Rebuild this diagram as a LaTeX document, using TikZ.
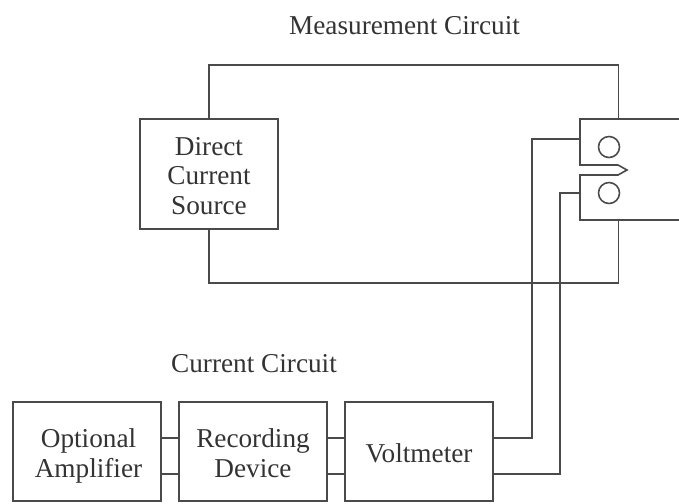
\documentclass[tikz,border=0pt]{standalone}
\usepackage{fontspec}
\setmainfont{Liberation Serif}

\definecolor{inkgray}{HTML}{4A4A4A}
\tikzset{
  lead/.style={draw=inkgray, line width=0.9pt},
  blocktext/.style={align=center, text=black!80, font=\fontsize{15.5}{17}\selectfont, inner sep=0pt},
  blockbox/.style={lead, inner sep=0pt},
  lowerbox/.style={blockbox, minimum width=2.96cm, minimum height=1.98cm},
  caption/.style={text=black!80, font=\fontsize{15.5}{17}\selectfont}
}

\begin{document}
\begin{tikzpicture}
      \def\xsize{13.58}
      \def\ysize{10.06}
      \def\holesize{0.21}
      \useasboundingbox (0,0) rectangle (\xsize,\ysize);

      \node[caption] (measurelabel) at (8.09,9.54) {Measurement Circuit};
      \node[caption] (currentlabel) at (5.08,2.78) {Current Circuit};

      \node[blockbox, minimum width=2.76cm, minimum height=2.2cm,
        label={[blocktext,yshift=-0.1cm]center:\strut Direct\\\strut Current\\\strut Source}] (source) at (4.18,6.58) {};
      \node[lowerbox, label={[blocktext,xshift=0.03cm,yshift=-0.1cm]center:\strut Optional\\\strut Amplifier}] (amplifier) at (1.74,1.03) {};
      \node[lowerbox, label={[blocktext,yshift=-0.1cm]center:\strut Recording\\\strut Device}] (recorder) at (5.06,1.03) {};
      \node[lowerbox, label={[blocktext,yshift=-0.1cm]center:\strut Voltmeter}] (voltmeter) at (8.38,1.03) {};

      % specimen, open on the right
      \coordinate (spectop) at (12.37,7.68);
      \coordinate (specbot) at (12.37,5.66);
      \coordinate (tapup) at (11.6,7.28);
      \coordinate (tapdown) at (11.6,6.2);
      \draw[lead] (\xsize,7.68) -- (11.6,7.68) -- (11.6,6.76) -- (12.36,6.76) -- (12.54,6.66)
        -- (12.36,6.56) -- (11.6,6.56) -- (11.6,5.66) -- (\xsize,5.66);
      \draw[lead] (12.18,7.12) circle (\holesize);
      \draw[lead] (12.18,6.2) circle (\holesize);

      % current loop
      \coordinate (looptop) at (12.37,8.76);
      \coordinate (loopbot) at (12.37,4.4);
      \draw[lead] (source.north) |- (looptop) -- (spectop);
      \draw[lead] (source.south) |- (loopbot) -- (specbot);

      % voltage leads
      \coordinate (voltup) at (voltmeter.east |- 0,1.3);
      \coordinate (voltdown) at (voltmeter.east |- 0,0.58);
      \draw[lead] (voltup) -- (10.64,1.3) |- (tapup);
      \draw[lead] (voltdown) -- (11.2,0.58) |- (tapdown);

      \foreach \y in {1.3,0.58} {
        \draw[lead] (amplifier.east |- 0,\y) -- (recorder.west |- 0,\y);
        \draw[lead] (recorder.east |- 0,\y) -- (voltmeter.west |- 0,\y);
      }
    \end{tikzpicture}
\end{document}
